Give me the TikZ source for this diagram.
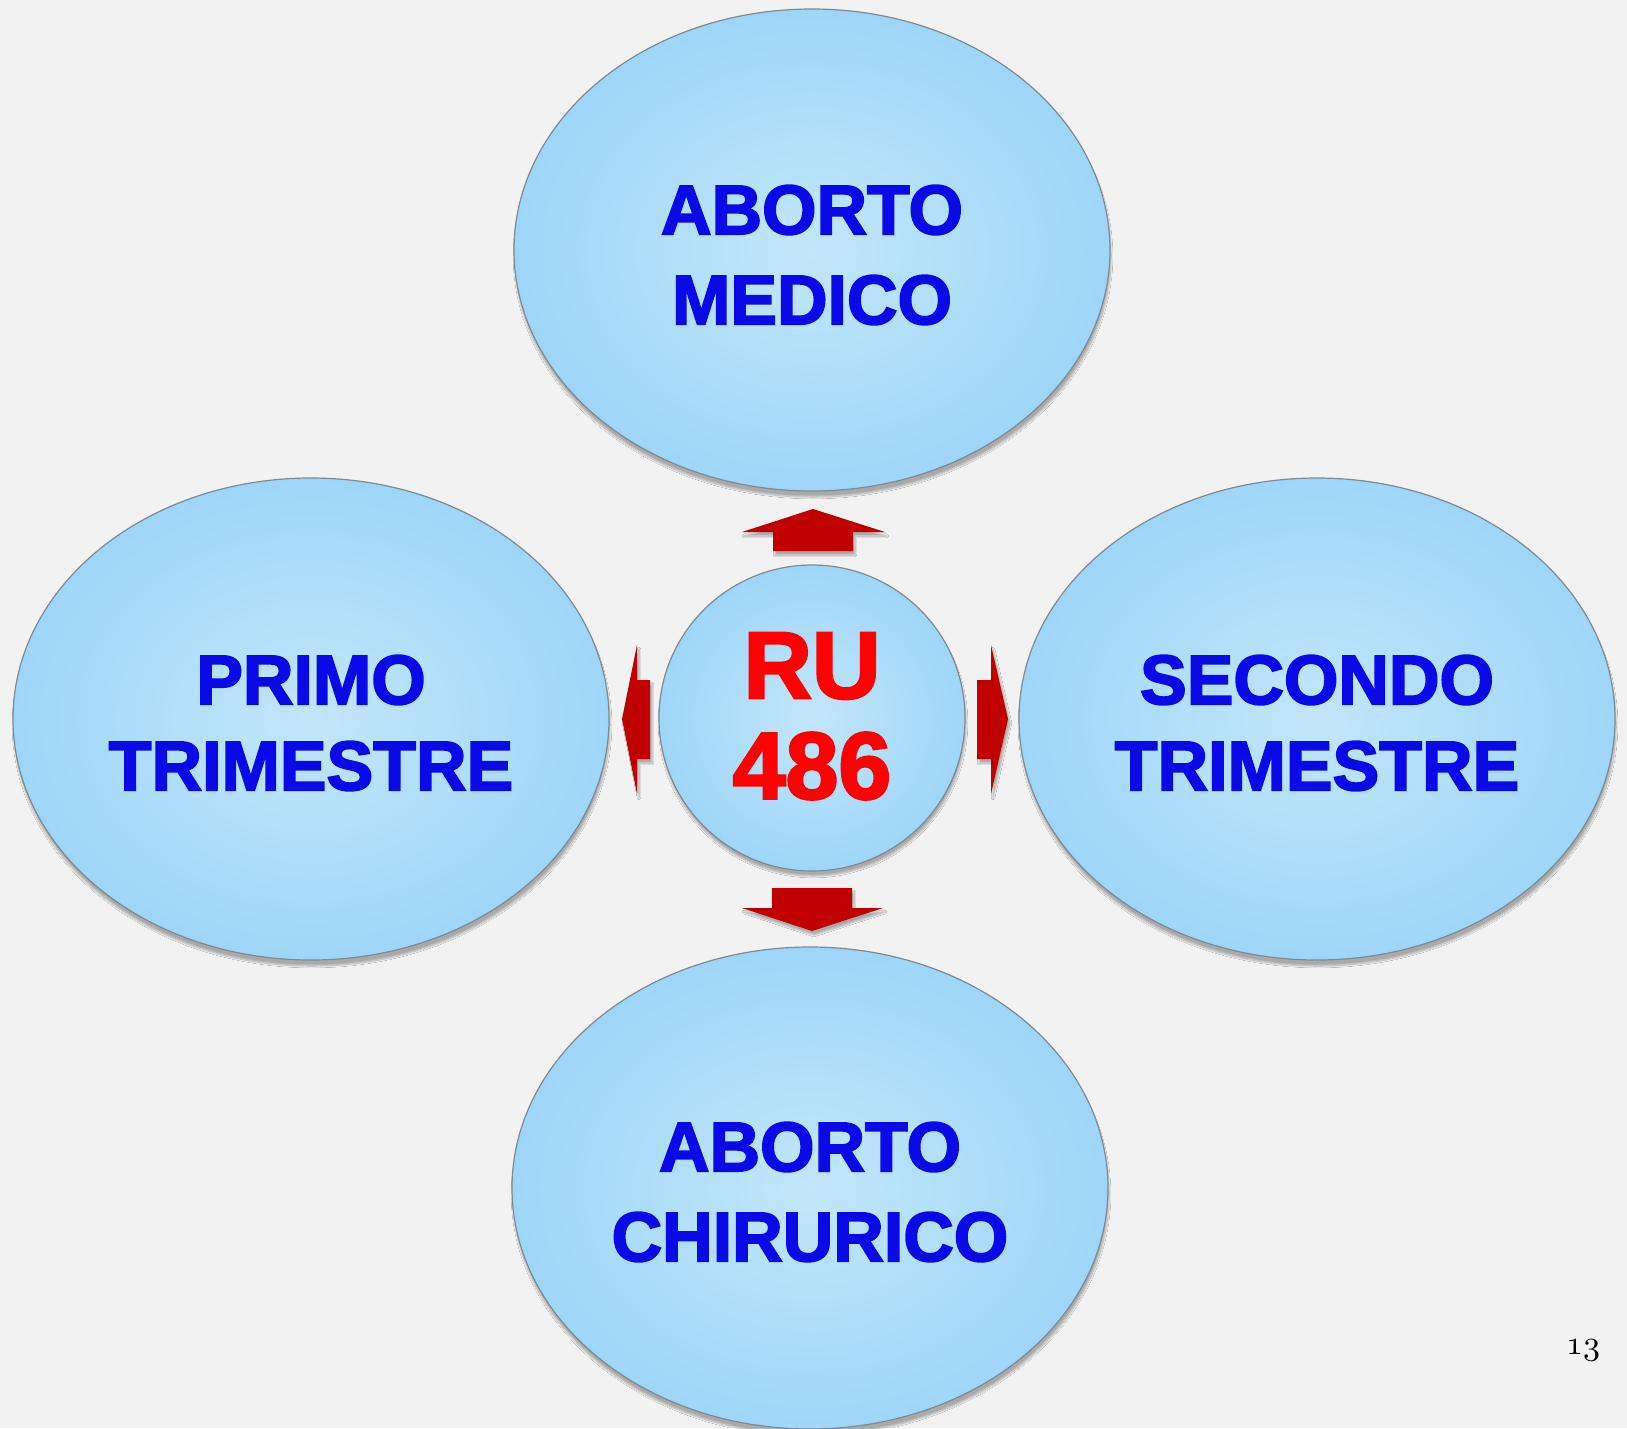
\documentclass[tikz,border=0pt]{standalone}
\usepackage{graphicx}
\usepackage{fontspec}
\setsansfont{Liberation Sans}
\newfontfamily\blk[FakeBold=2.6]{Liberation Sans Bold}
\usetikzlibrary{shapes.geometric,shadows.blur}
\definecolor{bg}{HTML}{F2F2F2}
\definecolor{bubin}{HTML}{C2E6FB}
\definecolor{bubout}{HTML}{9FD6F8}
\definecolor{bubline}{HTML}{7D8A93}
\definecolor{arr}{HTML}{C00000}
\definecolor{txtblue}{HTML}{0A0AE6}
\definecolor{txtred}{HTML}{FF0000}
\tikzset{
  bubble/.style={ellipse, draw=bubline, line width=1.2pt, inner color=bubin, outer color=bubout,
    minimum width=596pt, minimum height=482pt, inner sep=0pt,
    blur shadow={shadow xshift=1pt, shadow yshift=-6pt, shadow blur steps=12, shadow opacity=30}},
  hub/.style={circle, draw=bubline, line width=1.2pt, inner color=bubin, outer color=bubout,
    minimum size=306pt, inner sep=0pt,
    blur shadow={shadow xshift=1pt, shadow yshift=-5pt, shadow blur steps=10, shadow opacity=30}},
  lab/.style={text=txtblue, font=\blk\fontsize{70}{90}\selectfont, align=center},
  blockarrow/.style={fill=arr, draw=none,
    blur shadow={shadow xshift=2pt, shadow yshift=-4pt, shadow blur steps=8, shadow opacity=30}}
}
\begin{document}
\begin{tikzpicture}[x=1pt,y=-1pt]
\fill[bg] (0,0) rectangle (1627,1428);
\useasboundingbox (0,0) rectangle (1627,1428);
\clip (0,0) rectangle (1627,1428);
% bubbles
\node[bubble] (top) at (812,250) {};
\node[bubble] (left) at (311,719) {};
\node[bubble] (right) at (1317,719) {};
\node[bubble] (bot) at (810,1188) {};
\node[hub] (c) at (812,718) {};
% labels
\node[lab] (t1) at (812,210) {ABORTO};
\node[lab] (t2) at (812,300) {MEDICO};
\node[lab] (l1) at (311,680) {PRIMO};
\node[lab] (l2) at (311,766) {TRIMESTRE};
\node[lab] (r1) at (1317,680) {SECONDO};
\node[lab] (r2) at (1317,766) {TRIMESTRE};
\node[lab] (b1) at (810,1147) {ABORTO};
\node[lab] (b2) at (810,1237) {CHIRURICO};
\node[text=txtred, font=\blk\fontsize{95}{100}\selectfont] (c1) at (812,666) {RU};
\node[text=txtred, font=\blk\fontsize{95}{100}\selectfont] (c2) at (812,766) {486};
% arrows
\fill[blockarrow] (773,551) -- (773,532) -- (742,532) -- (813,509) -- (885,532) -- (853,532) -- (853,551) -- cycle;
\fill[blockarrow] (772,888) -- (852,888) -- (852,908) -- (883,908) -- (812,931) -- (742,908) -- (772,908) -- cycle;
\fill[blockarrow] (650,680) -- (637,680) -- (637,645) -- (622,719) -- (637,794) -- (637,759) -- (650,759) -- cycle;
\fill[blockarrow] (977,680) -- (991,680) -- (991,645) -- (1008,719) -- (991,794) -- (991,759) -- (977,759) -- cycle;
% page number
\node (pg) at (1583,1350) {\scalebox{3.4}{$\mathchar"0131\mathchar"0133$}};
\end{tikzpicture}
\end{document}
